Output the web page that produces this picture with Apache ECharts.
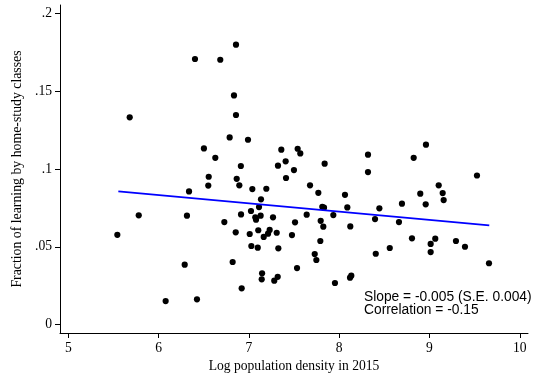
<!DOCTYPE html>
<html>
<head>
<meta charset="utf-8">
<script src="https://cdn.jsdelivr.net/npm/echarts@6/dist/echarts.min.js"></script>
<style>html,body{margin:0;padding:0;background:#fff}#c{width:539px;height:374px}</style>
</head>
<body>
<div id="c"></div>
<script>
const logDensity = [5.543,5.680,5.780,6.078,6.289,6.314,6.337,6.403,6.425,6.502,6.550,6.555,6.628,6.683,6.728,6.787,6.820,6.835,6.854,6.857,6.857,6.865,6.894,6.911,6.913,6.920,6.990,7.009,7.023,7.027,7.038,7.071,7.079,7.098,7.104,7.112,7.130,7.134,7.142,7.146,7.164,7.193,7.212,7.230,7.267,7.281,7.308,7.319,7.322,7.326,7.359,7.407,7.411,7.477,7.499,7.511,7.533,7.540,7.569,7.640,7.677,7.729,7.747,7.769,7.791,7.795,7.813,7.832,7.824,7.839,7.935,7.953,8.064,8.090,8.120,8.134,8.123,8.319,8.319,8.397,8.405,8.445,8.560,8.662,8.695,8.806,8.825,8.898,8.958,8.961,9.013,9.013,9.064,9.102,9.146,9.157,9.293,9.393,9.526,9.659];
const homeStudyFraction = [0.0578,0.1333,0.0703,0.0152,0.0386,0.0701,0.0857,0.1708,0.0163,0.1133,0.0894,0.0951,0.1073,0.1703,0.0660,0.1204,0.0403,0.1474,0.0594,0.1348,0.1800,0.0938,0.0896,0.1020,0.0709,0.0234,0.1189,0.0583,0.0731,0.0506,0.0872,0.0690,0.0675,0.0495,0.0607,0.0756,0.0701,0.0806,0.0292,0.0330,0.0564,0.0874,0.0585,0.0609,0.0690,0.0283,0.0591,0.0308,0.1022,0.0491,0.1125,0.1050,0.0943,0.0576,0.0994,0.0658,0.0364,0.1131,0.1101,0.0707,0.0896,0.0454,0.0416,0.0848,0.0538,0.0668,0.0758,0.0752,0.0630,0.1035,0.0705,0.0268,0.0835,0.0754,0.0302,0.0315,0.0632,0.1093,0.0981,0.0679,0.0456,0.0748,0.0493,0.0660,0.0778,0.0555,0.1073,0.0842,0.0774,0.1157,0.0519,0.0467,0.0553,0.0896,0.0846,0.0801,0.0538,0.0501,0.0959,0.0395];
const fitLineX = [5.554, 9.662];
const fitLineY = [0.0857, 0.0639];
const xTicks = [5, 6, 7, 8, 9, 10];
const yTicks = [0, 0.05, 0.1, 0.15, 0.2];
const xTitle = 'Log population density in 2015';
const yTitle = 'Fraction of learning by home-study classes';
const noteLines = ['Slope = -0.005 (S.E. 0.004)', 'Correlation = -0.15'];

const points = logDensity.map((x, i) => [x, homeStudyFraction[i]]);
const fit = fitLineX.map((x, i) => [x, fitLineY[i]]);
const serif = '"Liberation Serif", "Times New Roman", serif';
const chart = echarts.init(document.getElementById('c'), null, {renderer: 'canvas'});
chart.setOption({
  animation: false,
  backgroundColor: '#ffffff',
  grid: {left: 60, right: 11, top: 5, bottom: 41, containLabel: false, outerBoundsMode: 'none'},
  xAxis: {
    type: 'value', min: 4.908, max: 10.091,
    name: xTitle, nameLocation: 'middle', nameGap: 21,
    nameTextStyle: {fontFamily: serif, fontSize: 13.6, color: '#000'},
    axisLine: {show: true, onZero: false, lineStyle: {color: '#000', width: 1}},
    axisTick: {show: true, length: 5, customValues: xTicks, lineStyle: {color: '#000'}},
    axisLabel: {customValues: xTicks, margin: 8, fontFamily: serif, fontSize: 13.6, color: '#000'},
    splitLine: {show: false}
  },
  yAxis: {
    type: 'value', min: -0.00533, max: 0.2055,
    name: yTitle, nameLocation: 'middle', nameGap: 33, nameRotate: 90,
    nameTextStyle: {fontFamily: serif, fontSize: 13.8, color: '#000'},
    axisLine: {show: true, onZero: false, lineStyle: {color: '#000', width: 1}},
    axisTick: {show: true, length: 5, customValues: yTicks, lineStyle: {color: '#000'}},
    axisLabel: {customValues: yTicks, margin: 8, fontFamily: serif, fontSize: 13.6, color: '#000',
      formatter: v => v === 0 ? '0' : String(+v.toFixed(2)).replace(/^0/, '')},
    splitLine: {show: false}
  },
  series: [
    {type: 'scatter', data: points, symbol: 'circle', symbolSize: 6.2,
     itemStyle: {color: '#000', opacity: 1}, z: 2},
    {type: 'line', data: fit, symbol: 'none', lineStyle: {color: '#0000ff', width: 1.8}, z: 3}
  ],
  graphic: [{
    type: 'text', left: 364, top: 290, z: 10,
    style: {text: noteLines.join('\n'), fontFamily: '"Liberation Sans", Arial, sans-serif', fontSize: 13.8, lineHeight: 12.7, fill: '#000'}
  }]
});
</script>
</body>
</html>
